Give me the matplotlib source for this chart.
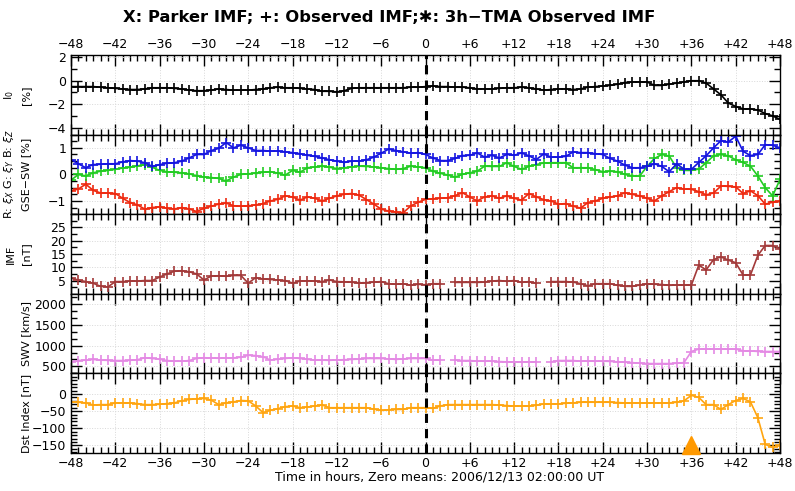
import numpy as np
import matplotlib
matplotlib.use("Agg")
import matplotlib.pyplot as plt
from matplotlib.ticker import MultipleLocator, AutoMinorLocator

nan = np.nan
hours = np.arange(-48, 49)
xtick_vals = np.arange(-48, 49, 6)
xtick_labels = ["\u221248", "\u221242", "\u221236", "\u221230", "\u221224", "\u221218", "\u221212", "\u22126",
                "0", "+6", "+12", "+18", "+24", "+30", "+36", "+42", "+48"]

# I0 [%]
i0 = [-0.5, -0.5, -0.5, -0.5, -0.55, -0.6, -0.65, -0.7, -0.75, -0.75, -0.7, -0.6, -0.6, -0.6, -0.65, -0.7,
      -0.8, -0.85, -0.85, -0.8, -0.7, -0.75, -0.8, -0.8, -0.8, -0.75, -0.7, -0.6, -0.55, -0.6, -0.6, -0.65,
      -0.7, -0.75, -0.9, -0.9, -0.95, -0.85, -0.65, -0.6, -0.6, -0.6, -0.6, -0.6, -0.6, -0.6, -0.55, -0.55,
      -0.5, -0.45, -0.5, -0.5, -0.55, -0.55, -0.6, -0.7, -0.7, -0.7, -0.65, -0.6, -0.6, -0.55, -0.6, -0.7,
      -0.8, -0.75, -0.7, -0.7, -0.75, -0.7, -0.55, -0.5, -0.45, -0.4, -0.3, -0.15, -0.1, -0.1, -0.1, -0.4,
      -0.4, -0.3, -0.2, -0.1, 0.0, 0.0, -0.2, -0.7, -1.2, -1.9, -2.2, -2.4, -2.4, -2.5, -2.8, -3.0, -3.3]

# anisotropy components GSE-SW [%]
xi_x = [-0.62, -0.55, -0.37, -0.6, -0.7, -0.7, -0.72, -0.9, -1.06, -1.15, -1.31, -1.25, -1.22, -1.28, -1.3, -1.25,
        -1.3, -1.4, -1.28, -1.2, -1.12, -1.08, -1.18, -1.2, -1.19, -1.15, -1.1, -1.0, -0.94, -0.81, -0.85, -0.97,
        -0.85, -0.9, -1.0, -0.9, -0.81, -0.75, -0.72, -0.78, -0.95, -1.12, -1.31, -1.38, -1.42, -1.44, -1.19, -1.05,
        -0.94, -0.92, -0.9, -0.88, -0.8, -0.69, -0.85, -1.0, -0.85, -0.81, -0.9, -0.81, -0.9, -0.97, -0.72, -0.85,
        -0.95, -1.0, -1.12, -1.1, -1.2, -1.27, -1.06, -1.0, -0.9, -0.85, -0.81, -0.69, -0.75, -0.81, -0.9, -1.0,
        -0.81, -0.65, -0.5, -0.55, -0.56, -0.65, -0.77, -0.7, -0.44, -0.45, -0.47, -0.72, -0.62, -0.8, -1.12, -1.05,
        -1.02]
xi_y = [-0.22, 0.0, -0.06, 0.06, 0.12, 0.15, 0.19, 0.24, 0.27, 0.32, 0.37, 0.27, 0.15, 0.1, 0.08, 0.06,
        0.02, -0.05, -0.1, -0.12, -0.15, -0.25, -0.1, 0.0, 0.02, 0.05, 0.08, 0.1, 0.05, -0.03, 0.15, 0.08,
        0.25, 0.28, 0.31, 0.27, 0.22, 0.25, 0.28, 0.31, 0.3, 0.28, 0.25, 0.22, 0.19, 0.22, 0.31, 0.28,
        0.25, 0.12, 0.04, -0.02, -0.1, 0.0, 0.06, 0.12, 0.31, 0.3, 0.3, 0.44, 0.3, 0.19, 0.3, 0.37,
        0.43, 0.44, 0.44, 0.44, 0.25, 0.25, 0.25, 0.18, 0.1, 0.12, 0.1, 0.0, -0.06, -0.06, 0.3, 0.6,
        0.75, 0.69, 0.25, 0.15, 0.15, 0.2, 0.44, 0.7, 0.75, 0.7, 0.55, 0.45, 0.31, -0.06, -0.5, -0.81,
        -0.19]
xi_z = [0.56, 0.4, 0.25, 0.37, 0.38, 0.4, 0.4, 0.47, 0.52, 0.5, 0.44, 0.3, 0.37, 0.42, 0.44, 0.5,
        0.62, 0.75, 0.75, 0.9, 0.98, 1.2, 1.0, 1.1, 1.0, 0.9, 0.9, 0.88, 0.88, 0.85, 0.82, 0.78,
        0.72, 0.68, 0.62, 0.55, 0.5, 0.45, 0.5, 0.5, 0.55, 0.65, 0.8, 0.95, 0.9, 0.85, 0.8, 0.82,
        0.75, 0.62, 0.52, 0.52, 0.6, 0.71, 0.72, 0.81, 0.65, 0.72, 0.62, 0.75, 0.72, 0.81, 0.7, 0.56,
        0.77, 0.65, 0.65, 0.68, 0.85, 0.82, 0.82, 0.78, 0.75, 0.6, 0.5, 0.35, 0.25, 0.25, 0.3, 0.4,
        0.3, 0.1, 0.4, 0.2, 0.19, 0.45, 0.7, 1.0, 1.27, 1.22, 1.44, 0.87, 0.71, 0.75, 1.12, 1.1,
        1.0]

# IMF [nT]
imf = [5.9, 5.2, 4.6, 4.0, 2.8, 2.6, 4.6, 4.6, 4.8, 4.8, 5.0, 5.0, 6.3, 7.5, 8.5, 8.7,
       8.3, 7.5, 5.2, 6.7, 6.8, 6.6, 6.9, 6.9, 4.0, 6.1, 5.6, 5.4, 5.2, 5.0, 4.0, 4.8,
       4.9, 4.8, 4.6, 5.2, 4.6, 4.5, 4.4, 4.0, 4.2, 4.4, 4.6, 3.8, 3.6, 3.8, 3.2, 3.6,
       3.4, 3.8, 3.8, nan, 4.3, 4.3, 4.3, 4.3, 4.4, 4.8, 5.0, 4.7, 5.0, 4.3, 4.6, 3.9,
       nan, 4.6, 4.6, 4.6, 4.4, 3.8, 3.0, 3.8, 3.8, 3.8, 3.2, 2.8, 2.8, 3.3, 3.8, 3.6,
       3.5, 3.2, 3.3, 3.3, 3.3, 10.8, 9.0, 12.9, 13.9, 12.7, 11.7, 7.1, 7.1, 14.5, 18.2, 18.2,
       17.0]

# solar wind speed [km/s]
swv = [608, 640, 650, 667, 650, 645, 640, 640, 645, 660, 708, 690, 670, 640, 625, 625,
       640, 690, 708, 700, 695, 700, 705, 720, 767, 760, 733, 650, 670, 690, 708, 690,
       670, 650, 650, 645, 655, 660, 667, 675, 690, 690, 690, 680, 667, 680, 690, 690,
       690, 650, 650, nan, 650, 640, 640, 625, 625, 625, 615, 608, 608, 608, 608, 608,
       nan, 608, 640, 640, 640, 625, 625, 625, 625, 620, 608, 600, 590, 575, 567, 567,
       567, 567, 575, 590, 858, 917, 917, 917, 917, 917, 917, 875, 870, 860, 858, 858,
       858]

# Dst index [nT]
dst = [-23, -24, -26, -32, -31, -31, -26, -26, -26, -28, -31, -31, -30, -28, -26, -20,
       -16, -14, -13, -18, -31, -26, -23, -19, -20, -35, -54, -48, -43, -37, -35, -40,
       -38, -35, -32, -40, -40, -40, -40, -40, -40, -44, -48, -46, -45, -45, -40, -40,
       -40, -42, -35, -31, -31, -31, -31, -31, -31, -31, -32, -34, -35, -35, -35, -33,
       -29, -29, -29, -27, -26, -24, -24, -24, -24, -24, -25, -26, -26, -26, -26, -26,
       -26, -26, -24, -20, -4, -10, -31, -31, -45, -31, -19, -13, -23, -69, -147, -155,
       -150]

event_hour = 36

fig = plt.figure(figsize=(7.95, 4.91), dpi=100)
left, right = 71 / 795, 780 / 795
top, bottom = 1 - 55 / 491, 1 - 453 / 491
h = (top - bottom) / 5
axes = [fig.add_axes([left, top - (i + 1) * h, right - left, h]) for i in range(5)]

def plot_series(ax, y, color):
    ax.plot(hours, y, color=color, lw=1.2, marker='+', ms=7.5, mew=1.2)

plot_series(axes[0], i0, 'black')
plot_series(axes[1], xi_x, '#ee2a10')
plot_series(axes[1], xi_y, '#22cc22')
plot_series(axes[1], xi_z, '#1515e0')
plot_series(axes[2], imf, '#a33a3a')
plot_series(axes[3], swv, '#e48ae4')
plot_series(axes[4], dst, '#ffa510')

axes[4].plot([event_hour], [0.1], transform=axes[4].get_xaxis_transform(),
             marker='^', ms=13, color='#ff9900', clip_on=False, zorder=5)

ylims = [(-4.6, 2.2), (-1.5, 1.5), (0, 30), (330, 2250), (-172, 60)]
minors = [2, 4, 2, 3, 5]
ylabels = ["I$_0$\n[%]", "R: $\\xi_X$ G: $\\xi_Y$ B: $\\xi_Z$\nGSE\u2212SW [%]", "IMF\n[nT]",
           "SWV [km/s]", "Dst Index [nT]"]
ytick_sets = [[2, 0, -2, -4], [1, 0, -1], [5, 10, 15, 20, 25], [500, 1000, 1500, 2000], [0, -50, -100, -150]]

for i, ax in enumerate(axes):
    ax.set_xlim(-48, 48)
    ax.set_ylim(*ylims[i])
    ax.set_xticks(xtick_vals)
    ax.xaxis.set_minor_locator(MultipleLocator(1))
    ax.set_yticks(ytick_sets[i])
    ax.yaxis.set_minor_locator(AutoMinorLocator(minors[i]))
    ax.set_yticklabels([str(v).replace('-', '\u2212') for v in ytick_sets[i]], fontsize=9)
    ax.tick_params(which='both', direction='in', top=True, right=True, width=1.0, color='black')
    ax.tick_params(which='major', length=8)
    ax.tick_params(which='minor', length=4)
    ax.tick_params(axis='x', labelbottom=(i == 4), labeltop=(i == 0), labelsize=9, pad=3)
    ax.set_xticklabels(xtick_labels)
    ax.grid(True, which='major', color='#d8d8d8', ls=':', lw=0.7)
    ax.axvline(0, color='black', ls=(0, (3, 2)), lw=2.2, zorder=4)
    ax.set_ylabel(ylabels[i], fontsize=8, linespacing=1.7)
    ax.yaxis.set_label_coords(-0.056, 0.5)
    for s in ax.spines.values():
        s.set_linewidth(1.0)

fig.text(0.49, 1 - 18 / 491, "X: Parker IMF; +: Observed IMF;\u2731: 3h\u2212TMA Observed IMF",
         ha='center', va='center', fontsize=11.8, fontweight='bold')
fig.text(0.553, 1 - 477 / 491, "Time in hours, Zero means: 2006/12/13 02:00:00 UT",
         ha='center', va='center', fontsize=9)

fig.savefig("out.png", dpi=100)
